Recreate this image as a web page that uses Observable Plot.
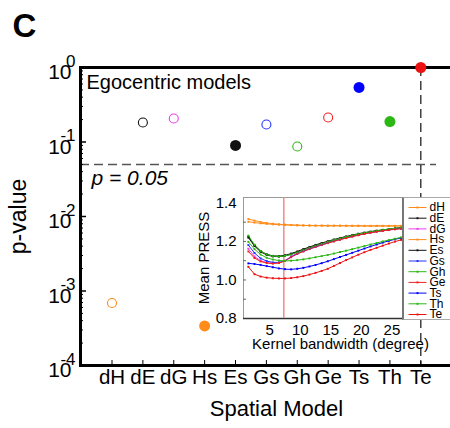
<!DOCTYPE html>
<html><head><meta charset="utf-8">
<script src="https://cdn.jsdelivr.net/npm/d3@7"></script>
<script src="https://cdn.jsdelivr.net/npm/@observablehq/plot@0.6"></script>
<style>
body{margin:0;background:#fff;}
#wrap{position:relative;width:450px;height:428px;overflow:hidden;font-family:"Liberation Sans",Arial,sans-serif;}
#wrap svg{position:absolute;overflow:visible;max-width:none;}
</style></head><body><div id="wrap"></div>
<script>
// ---- main panel data ----
const models = ["dH","dE","dG","Hs","Es","Gs","Gh","Ge","Ts","Th","Te"];
const pValues = [6.9e-4, 0.183, 0.207, 3.4e-4, 0.09, 0.172, 0.087, 0.213, 0.54, 0.188, 1.0];
const filledModels = ["Hs","Es","Ts","Th","Te"];
const modelColors = ["#ff8c1a","#111111","#f03cf0","#ff8c1a","#111111","#2233ff","#2cb814","#f02020","#0000ff","#2cb814","#ee1111"];
const threshold = 0.05;
const bestModel = "Te";
const majorTicks = [1e-4, 1e-3, 1e-2, 1e-1, 1];
const tickExponents = ["-4","-3","-2","-1","0"];

// ---- inset data (mean PRESS vs kernel bandwidth) ----
const bandwidth = [1.5,2.5,3.5,4.5,5.5,6.5,7.5,8.5,9.5,10.5,11.5,12.5,13.5,14.5,15.5,16.5,17.5,18.5,19.5,20.5,21.5,22.5,23.5,24.5,25.5,26.5];
const pressDH = [1.316,1.308,1.301,1.296,1.292,1.289,1.287,1.285,1.284,1.283,1.283,1.282,1.282,1.282,1.282,1.282,1.281,1.281,1.281,1.281,1.281,1.281,1.281,1.281,1.281,1.281];
const pressDE = [1.225,1.18,1.15,1.133,1.125,1.124,1.128,1.137,1.148,1.16,1.171,1.182,1.192,1.201,1.21,1.218,1.226,1.233,1.24,1.246,1.251,1.256,1.26,1.264,1.268,1.272];
const pressDG = [1.162,1.122,1.1,1.09,1.087,1.09,1.1,1.122,1.138,1.151,1.163,1.174,1.184,1.194,1.203,1.212,1.22,1.228,1.235,1.242,1.248,1.253,1.258,1.262,1.266,1.269];
const pressHs = [1.302,1.298,1.294,1.291,1.289,1.287,1.286,1.285,1.284,1.283,1.282,1.282,1.282,1.281,1.281,1.281,1.281,1.281,1.281,1.28,1.28,1.28,1.28,1.28,1.28,1.28];
const pressEs = [1.22,1.176,1.146,1.13,1.122,1.121,1.125,1.134,1.145,1.157,1.168,1.179,1.189,1.198,1.207,1.215,1.223,1.23,1.237,1.243,1.249,1.254,1.258,1.262,1.266,1.27];
const pressGs = [1.181,1.14,1.112,1.098,1.091,1.091,1.099,1.12,1.136,1.149,1.161,1.172,1.182,1.192,1.201,1.21,1.218,1.226,1.233,1.24,1.246,1.251,1.256,1.26,1.264,1.267];
const pressGh = [1.23,1.183,1.15,1.132,1.124,1.122,1.125,1.132,1.143,1.155,1.167,1.178,1.188,1.198,1.207,1.215,1.223,1.231,1.238,1.244,1.25,1.255,1.26,1.264,1.268,1.272];
const pressGe = [1.148,1.114,1.096,1.088,1.085,1.088,1.098,1.118,1.135,1.148,1.16,1.171,1.181,1.191,1.2,1.209,1.217,1.225,1.232,1.239,1.245,1.25,1.255,1.259,1.263,1.266];
const pressTs = [1.086,1.083,1.078,1.072,1.066,1.06,1.056,1.055,1.058,1.063,1.07,1.078,1.087,1.097,1.108,1.119,1.13,1.141,1.152,1.163,1.174,1.184,1.194,1.203,1.211,1.218];
const pressTh = [1.198,1.16,1.132,1.115,1.106,1.101,1.099,1.1,1.103,1.107,1.112,1.118,1.124,1.13,1.137,1.145,1.152,1.16,1.168,1.176,1.184,1.192,1.2,1.207,1.214,1.221];
const pressTe = [1.068,1.03,1.018,1.012,1.009,1.008,1.008,1.01,1.014,1.02,1.028,1.037,1.047,1.058,1.073,1.088,1.103,1.117,1.131,1.144,1.156,1.167,1.178,1.189,1.199,1.208];
const optimalBandwidth = 7.3;
const pressTicks = [0.8, 1.0, 1.2, 1.4];
const pressMinorTicks = [0.9, 1.0, 1.1, 1.2, 1.3];
const bandwidthTicks = [5, 10, 15, 20, 25];

const FONT = "Liberation Sans, Arial, sans-serif";
const wrap = document.getElementById("wrap");

const rows = models.map((m, i) => ({model: m, p: pValues[i], filled: filledModels.includes(m)}));
const minorTicks = d3.scaleLog().domain([1e-4, 1]).ticks().filter(t => !majorTicks.some(m => Math.abs(m - t) / m < 1e-6));
const expRows = majorTicks.map((t, i) => ({t, e: tickExponents[i]}));

const main = Plot.plot({
  width: 450, height: 428,
  marginLeft: 80, marginRight: -10, marginTop: 67, marginBottom: 63,
  style: {fontFamily: FONT, background: "transparent", color: "#000"},
  x: {type: "point", domain: models, range: [111.5, 420.3], padding: 0, round: false, axis: null},
  y: {type: "log", domain: [1e-4, 1], range: [365, 67], axis: null},
  color: {domain: models, range: modelColors},
  marks: [
    Plot.ruleY([threshold], {stroke: "#555", strokeWidth: 1.5, strokeDasharray: "9,5", insetRight: 24}),
    Plot.ruleX([bestModel], {stroke: "#222", strokeWidth: 1.3, strokeDasharray: "9,5"}),
    Plot.frame({stroke: "#000", strokeWidth: 3}),
    Plot.tickY(minorTicks, {stroke: "#000", strokeWidth: 1, insetRight: 377}),
    Plot.tickY(majorTicks, {stroke: "#000", strokeWidth: 1.5, insetRight: 374}),
    Plot.tickX(models, {stroke: "#000", strokeWidth: 1, insetTop: 293}),
    Plot.text(majorTicks, {y: d => d, text: () => "10", frameAnchor: "left", textAnchor: "end", dx: -9, dy: 5, fontSize: 21}),
    Plot.text(expRows, {y: "t", text: "e", frameAnchor: "left", textAnchor: "end", dx: -5, dy: -6, fontSize: 17}),
    Plot.text(models, {x: d => d, text: d => d, frameAnchor: "bottom", textAnchor: "middle", dy: 18, fontSize: 20.5}),
    Plot.text(["Spatial Model"], {frameAnchor: "bottom", textAnchor: "middle", dy: 50, dx: 6, fontSize: 22}),
    Plot.text(["p-value"], {frameAnchor: "left", textAnchor: "middle", rotate: -90, dx: -62, fontSize: 23}),
    Plot.text(["Egocentric models"], {frameAnchor: "top-left", textAnchor: "start", lineAnchor: "top", dx: 6, dy: 7, fontSize: 20}),
    Plot.text([threshold], {y: d => d, text: d => "p = " + d.toFixed(2), frameAnchor: "left", textAnchor: "start", dx: 11, dy: 14, fontSize: 21, fontStyle: "italic"}),
    Plot.text(["C"], {frameAnchor: "top-left", textAnchor: "start", lineAnchor: "top", dx: -68, dy: -54, fontSize: 33, fontWeight: "bold"}),
    Plot.dot(rows.filter(d => !d.filled), {x: "model", y: "p", r: 4.5, stroke: "model", fill: "white", strokeWidth: 1.1}),
    Plot.dot(rows.filter(d => d.filled), {x: "model", y: "p", r: 5.5, fill: "model"})
  ]
});
main.style.left = "0px"; main.style.top = "0px";
wrap.appendChild(main);

// ---- inset ----
const seriesArrays = [pressDH, pressDE, pressDG, pressHs, pressEs, pressGs, pressGh, pressGe, pressTs, pressTh, pressTe];
const table = models.flatMap((m, i) => bandwidth.map((b, j) => ({series: m, bw: b, press: seriesArrays[i][j]})));

const inset = Plot.plot({
  width: 255, height: 175,
  marginLeft: 48, marginRight: 47, marginTop: 12, marginBottom: 42,
  style: {fontFamily: FONT, background: "transparent", color: "#000"},
  x: {domain: [0.7, 26.9]},
  y: {domain: [0.8, 1.428]},
  color: {domain: models, range: modelColors},
  marks: [
    Plot.frame({stroke: "#999", strokeWidth: 1}),
    Plot.ruleY([0.8], {stroke: "#333", strokeWidth: 1.5}),
    Plot.tickY(pressMinorTicks, {stroke: "#666", strokeWidth: 1, insetRight: 157}),
    Plot.ruleX([optimalBandwidth], {stroke: "#f08a8a", strokeWidth: 1.5}),
    Plot.line(table, {x: "bw", y: "press", z: "series", stroke: "series", strokeWidth: 1}),
    Plot.dot(table, {x: "bw", y: "press", fill: "series", symbol: "square", r: 1.1}),
    Plot.axisY(pressTicks, {tickSize: 0, tickPadding: 7, fontSize: 15, label: null, tickFormat: d => d.toFixed(1)}),
    Plot.axisX(bandwidthTicks, {tickSize: 0, tickPadding: 6, fontSize: 15, label: null}),
    Plot.text(["Mean PRESS"], {frameAnchor: "left", textAnchor: "middle", rotate: -90, dx: -39.4, fontSize: 15}),
    Plot.text(["Kernel bandwidth (degree)"], {frameAnchor: "bottom", textAnchor: "middle", dx: 17, dy: 30, fontSize: 15})
  ]
});
inset.style.left = "195px"; inset.style.top = "185px";
wrap.appendChild(inset);

// ---- legend ----
const legend = Plot.plot({
  width: 50, height: 121, margin: 0,
  style: {fontFamily: FONT, background: "white", color: "#000"},
  x: {domain: [0, 1], range: [4, 22], axis: null},
  y: {type: "point", domain: models, range: [9, 116], padding: 0, round: false, axis: null},
  color: {domain: models, range: modelColors},
  marks: [
    Plot.link(models, {x1: () => 0, x2: () => 1, y1: d => d, y2: d => d, stroke: d => d, strokeWidth: 1}),
    Plot.dot(models, {x: () => 0.5, y: d => d, fill: d => d, symbol: "square", r: 1.1}),
    Plot.text(models, {x: () => 1, y: d => d, text: d => d, dx: 3, textAnchor: "start", fontSize: 12})
  ]
});
legend.style.left = "402px"; legend.style.top = "197px";
legend.style.borderLeft = "2.5px solid #777";
legend.style.borderTop = "1px solid #aaa";
legend.style.borderBottom = "1px solid #aaa";
wrap.appendChild(legend);
</script>
</body></html>
